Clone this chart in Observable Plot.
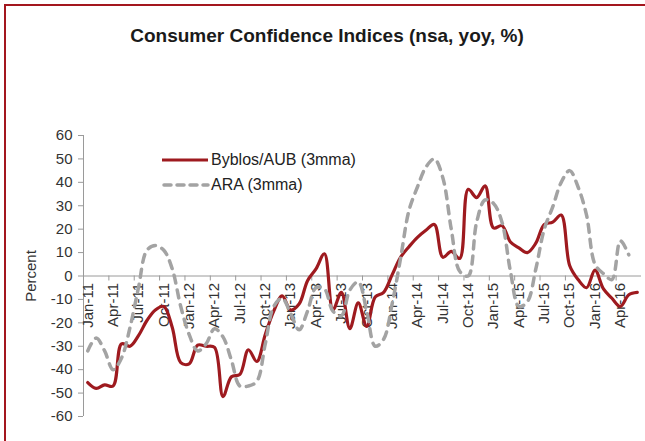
<!DOCTYPE html>
<html><head><meta charset="utf-8">
<script src="https://cdn.jsdelivr.net/npm/d3@7"></script>
<script src="https://cdn.jsdelivr.net/npm/@observablehq/plot@0.6"></script>
<style>
html,body{margin:0;padding:0;background:#fff;}
#wrap{position:relative;width:645px;height:441px;overflow:hidden;font-family:"Liberation Sans",Arial,sans-serif;background:#fff;}
#frame{position:absolute;left:4px;top:4px;width:700px;height:500px;border-left:2px solid #A3161E;border-top:2px solid #A3161E;}
#title{position:absolute;left:0;width:654px;top:26px;text-align:center;font-weight:bold;font-size:19px;line-height:19px;color:#1a1a1a;white-space:nowrap;}
#ylab{position:absolute;left:30px;top:276px;transform:translate(-50%,-50%) rotate(-90deg);font-size:15px;color:#333;white-space:nowrap;}
#chart{position:absolute;left:0;top:0;}
.leg{position:absolute;font-size:16px;line-height:16px;color:#222;white-space:nowrap;}
#legsvg{position:absolute;left:0;top:0;}
</style></head>
<body>
<div id="wrap">
  <div id="frame"></div>
  <div id="chart"></div>
  <div id="title">Consumer Confidence Indices (nsa, yoy, %)</div>
  <div id="ylab">Percent</div>
</div>
<script>
const months = ["Jan-11","Feb-11","Mar-11","Apr-11","May-11","Jun-11","Jul-11","Aug-11","Sep-11","Oct-11","Nov-11","Dec-11",
"Jan-12","Feb-12","Mar-12","Apr-12","May-12","Jun-12","Jul-12","Aug-12","Sep-12","Oct-12","Nov-12","Dec-12",
"Jan-13","Feb-13","Mar-13","Apr-13","May-13","Jun-13","Jul-13","Aug-13","Sep-13","Oct-13","Nov-13","Dec-13",
"Jan-14","Feb-14","Mar-14","Apr-14","May-14","Jun-14","Jul-14","Aug-14","Sep-14","Oct-14","Nov-14","Dec-14",
"Jan-15","Feb-15","Mar-15","Apr-15","May-15","Jun-15","Jul-15","Aug-15","Sep-15","Oct-15","Nov-15","Dec-15",
"Jan-16","Feb-16","Mar-16","Apr-16","May-16","Jun-16"];

const byblosAUB = [-45.5,-48,-46.5,-47,-29,-30,-25.5,-19,-14.5,-13,-22,-37,
-37.5,-29.5,-30,-30.5,-51.5,-43,-42,-31.5,-36.5,-25,-15,-8.5,
-14.5,-12,-2,3,9.5,-14.5,-7,-22.5,-11.5,-21.5,-9,-7,
0.5,8,12.5,16.5,19.5,22,8,10.5,7.5,37,33.5,38.5,
20.5,21.5,14.5,12,10,14,22,23,26,4.5,-1.5,-5,
2.5,-5.5,-9.5,-13,-8,-7];

const ara = [-32,-26.5,-32,-40,-35,-22,-5,11,13,11,3,-13,
-25,-32,-29,-22.5,-26,-36,-47,-47,-45,-29,-13,-9.5,
-16,-23,-15,-5,-5.5,-15,-17,-6,-2.5,-15,-30,-27,
-12,7.5,28,38,46.5,50,42,20,2,0,23,32.5,
31,23,2,-13,-11,3,20,29.5,40,45,38,26,
5,1,-1.5,15,9];

const tickLabels = ["Jan-11","Apr-11","Jul-11","Oct-11","Jan-12","Apr-12","Jul-12","Oct-12","Jan-13","Apr-13","Jul-13","Oct-13",
"Jan-14","Apr-14","Jul-14","Oct-14","Jan-15","Apr-15","Jul-15","Oct-15","Jan-16","Apr-16"];
const yTicks = [-60,-50,-40,-30,-20,-10,0,10,20,30,40,50,60];
const seriesNames = ["Byblos/AUB (3mma)", "ARA (3mma)"];

const RED = "#9E1A1F", GRAY = "#A3A3A3", AXIS = "#9a9a9a";

const redData = byblosAUB.map((v, i) => ({i, v}));
const grayData = ara.map((v, i) => ({i, v}));
const labelData = tickLabels.map(l => ({i: months.indexOf(l), label: l}));
const boundaries = labelData.map(d => d.i - 0.5);

const plot = Plot.plot({
  width: 645, height: 441,
  marginTop: 135, marginBottom: 25, marginLeft: 83, marginRight: 4,
  x: {domain: [-0.5, months.length - 0.5], axis: null},
  y: {domain: [-60, 60], axis: null},
  style: {background: "transparent", fontFamily: "Liberation Sans, Arial, sans-serif", fontSize: "15px", color: "#333", overflow: "visible"},
  marks: [
    Plot.axisY({ticks: yTicks, tickFormat: d => String(d), tickSize: 5, tickPadding: 6, fontSize: 15, color: "#333", stroke: AXIS, label: null}),
    Plot.ruleX([-0.5], {stroke: AXIS}),
    Plot.ruleY([0], {stroke: AXIS}),
    Plot.ruleX(boundaries, {x: d => d, y1: 0, y2: 0, insetBottom: -5, stroke: AXIS}),
    Plot.text(labelData, {x: "i", y: 0, text: "label", rotate: -90, textAnchor: "end", dy: 7, fontSize: 15, fill: "#333"}),
    Plot.line(redData, {x: "i", y: "v", stroke: RED, strokeWidth: 3.2, curve: "catmull-rom"}),
    Plot.line(grayData, {x: "i", y: "v", stroke: GRAY, strokeWidth: 3.5, strokeDasharray: "8,7", strokeLinecap: "round", curve: "catmull-rom"})
  ]
});
document.getElementById("chart").appendChild(plot);

// legend
const wrap = document.getElementById("wrap");
const ns = "http://www.w3.org/2000/svg";
const lsvg = document.createElementNS(ns, "svg");
lsvg.setAttribute("id", "legsvg");
lsvg.setAttribute("width", 645); lsvg.setAttribute("height", 441);
const l1 = document.createElementNS(ns, "line");
l1.setAttribute("x1", 162); l1.setAttribute("x2", 208); l1.setAttribute("y1", 160); l1.setAttribute("y2", 160);
l1.setAttribute("stroke", RED); l1.setAttribute("stroke-width", 3.2);
const l2 = document.createElementNS(ns, "line");
l2.setAttribute("x1", 164); l2.setAttribute("x2", 208); l2.setAttribute("y1", 185); l2.setAttribute("y2", 185);
l2.setAttribute("stroke", GRAY); l2.setAttribute("stroke-width", 3.5); l2.setAttribute("stroke-dasharray", "7,6");
l2.setAttribute("stroke-linecap", "round");
lsvg.appendChild(l1); lsvg.appendChild(l2);
wrap.appendChild(lsvg);
[[seriesNames[0], 152], [seriesNames[1], 177]].forEach(([t, top]) => {
  const d = document.createElement("div");
  d.className = "leg"; d.style.left = "211px"; d.style.top = top + "px"; d.textContent = t;
  wrap.appendChild(d);
});
</script>
</body></html>
